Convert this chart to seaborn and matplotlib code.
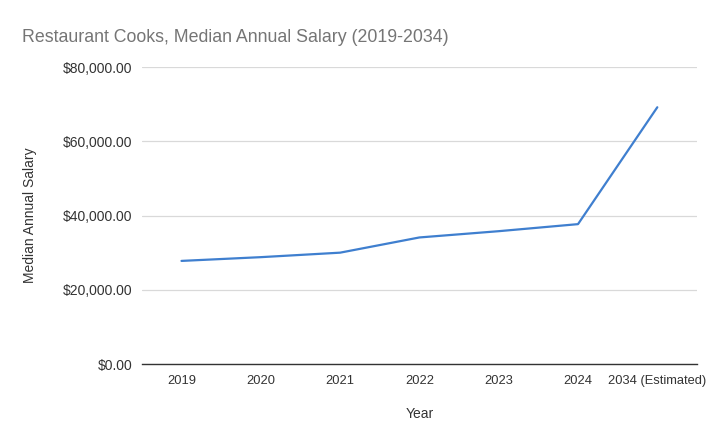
import pandas as pd
import seaborn as sns
import matplotlib.pyplot as plt
from matplotlib.ticker import FuncFormatter

# Data
years = ["2019", "2020", "2021", "2022", "2023", "2024", "2034 (Estimated)"]
salary = [27790, 28800, 30010, 34110, 35800, 37700, 69200]

df = pd.DataFrame({"Year": years, "Median Annual Salary": salary})

sns.set_theme(style="white")
plt.rcParams["font.family"] = ["Liberation Sans", "DejaVu Sans"]

fig = plt.figure(figsize=(7.2, 4.45), dpi=100)
ax = fig.add_axes([0.197, 0.182, 0.771, 0.667])

sns.lineplot(data=df, x="Year", y="Median Annual Salary", ax=ax,
             color="#3f7fcf", linewidth=1.6, sort=False)

ax.set_ylim(0, 80000)
ax.set_xlim(-0.5, len(years) - 0.5)
ax.set_yticks([0, 20000, 40000, 60000, 80000])
ax.yaxis.set_major_formatter(FuncFormatter(lambda v, p: f"${v:,.2f}"))
ax.grid(axis="y", color="#d9d9d9", linewidth=0.9)
ax.grid(axis="x", visible=False)
ax.set_axisbelow(True)

for s in ["top", "right", "left"]:
    ax.spines[s].set_visible(False)
ax.spines["bottom"].set_color("#333333")
ax.spines["bottom"].set_linewidth(1.0)

ax.tick_params(axis="y", length=0, labelsize=10, colors="#333333", pad=7)
ax.tick_params(axis="x", length=0, labelsize=9.3, colors="#333333", pad=8)

ax.set_xlabel("Year", fontsize=10, color="#333333", labelpad=14)
ax.set_ylabel("Median Annual Salary", fontsize=10, color="#333333", labelpad=18)

fig.text(0.03, 0.915, "Restaurant Cooks, Median Annual Salary (2019-2034)",
         fontsize=12.8, color="#757575", va="center", ha="left")

fig.savefig("out.png", dpi=100)
